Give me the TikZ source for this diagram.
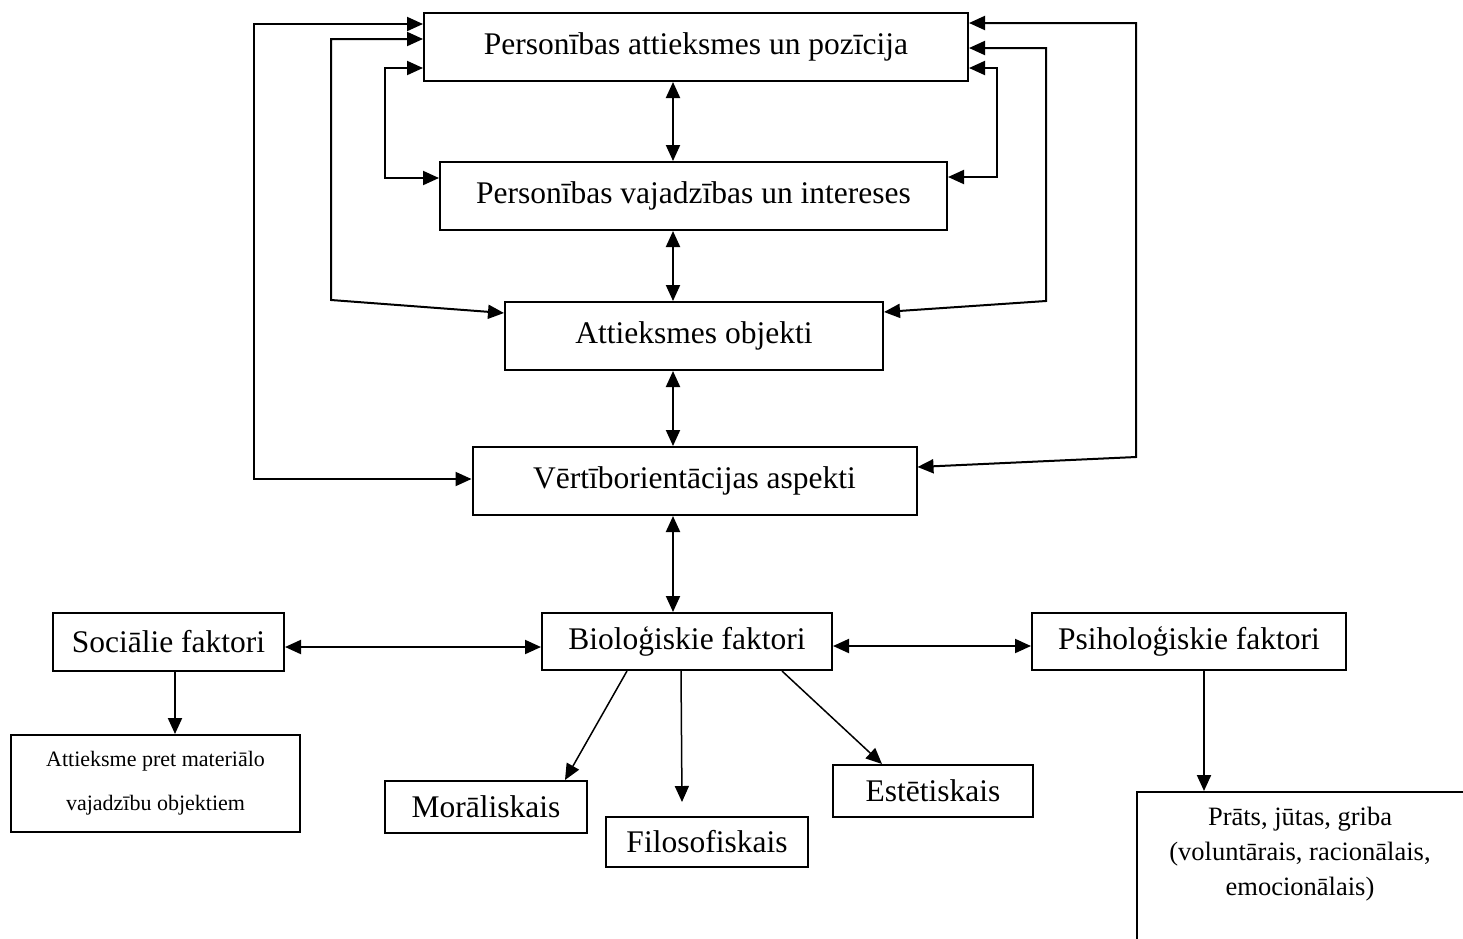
\documentclass[tikz,border=0pt]{standalone}
\usepackage{fontspec}
\setmainfont{Liberation Serif}
\usetikzlibrary{arrows.meta,calc}
\begin{document}
\begin{tikzpicture}[x=1pt,y=-1pt,
  box/.style={draw, line width=2pt, inner sep=0pt, align=center, font=\fontsize{31.5}{37}\selectfont},
  tip/.tip={Triangle[length=16pt,width=14pt]},
  con/.style={line width=2pt, -tip},
  dcon/.style={line width=2pt, tip-tip},
  diag/.style={line width=1.5pt}]
\useasboundingbox (0,0) rectangle (1463,938);
\begin{scope}
\clip (0,0) rectangle (1463,938);
\node[draw, line width=2pt, minimum width=340pt, minimum height=190pt, anchor=north west] (b12) at (1136,791) {};
\end{scope}
\node[font=\fontsize{26.5}{35}\selectfont, align=center] (b12t) at (1300,854) {Prāts, jūtas, griba\\(voluntārais, racionālais,\\emocionālais)};

\node[box, minimum width=544pt, minimum height=68pt] (b1) at (696,47) {Personības attieksmes un pozīcija};
\node[box, minimum width=507pt, minimum height=68pt] (b2) at (693.5,196) {Personības vajadzības un intereses};
\node[box, minimum width=378pt, minimum height=68pt] (b3) at (694,336) {Attieksmes objekti};
\node[box, minimum width=444pt, minimum height=68pt] (b4) at (694.5,481) {Vērtīborientācijas aspekti};
\node[box, minimum width=231pt, minimum height=58pt] (b5) at (168.5,642) {Sociālie faktori};
\node[box, minimum width=290pt, minimum height=57pt] (b6) at (687,641.5) {Bioloģiskie faktori};
\node[box, minimum width=314pt, minimum height=57pt] (b7) at (1189,641.5) {Psiholoģiskie faktori};
\node[box, minimum width=289pt, minimum height=97pt, font=\fontsize{22}{44}\selectfont] (b8) at (155.5,783.5) {Attieksme pret materiālo\\vajadzību objektiem};
\node[box, minimum width=202pt, minimum height=52pt] (b9) at (486,807) {Morāliskais};
\node[box, minimum width=202pt, minimum height=50pt] (b10) at (707,842) {Filosofiskais};
\node[box, minimum width=200pt, minimum height=52pt] (b11) at (933,791) {Estētiskais};

% left side loops
\coordinate (L1) at (254,24); \coordinate (L1b) at (254,479);
\draw[dcon] (b1.west |- L1) -- (L1) -- (L1b) -- (b4.west |- L1b);
\coordinate (L2) at (331,39); \coordinate (L2b) at (331,300); \coordinate (L2c) at (0,313);
\draw[dcon] (b1.west |- L2) -- (L2) -- (L2b) -- (b3.west |- L2c);
\coordinate (L3) at (385,68); \coordinate (L3b) at (385,178);
\draw[dcon] (b1.west |- L3) -- (L3) -- (L3b) -- (b2.west |- L3b);
% right side loops
\coordinate (R1) at (1136,23); \coordinate (R1b) at (1136,457); \coordinate (R1c) at (0,467);
\draw[dcon] (b1.east |- R1) -- (R1) -- (R1b) -- (b4.east |- R1c);
\coordinate (R2) at (1046,48); \coordinate (R2b) at (1046,301); \coordinate (R2c) at (0,312);
\draw[dcon] (b1.east |- R2) -- (R2) -- (R2b) -- (b3.east |- R2c);
\coordinate (R3) at (997,68); \coordinate (R3b) at (997,177);
\draw[dcon] (b1.east |- R3) -- (R3) -- (R3b) -- (b2.east |- R3b);
% central column
\coordinate (X) at (673,0);
\draw[dcon] (b1.south -| X) -- (b2.north -| X);
\draw[dcon] (b2.south -| X) -- (b3.north -| X);
\draw[dcon] (b3.south -| X) -- (b4.north -| X);
\draw[dcon] (b4.south -| X) -- (b6.north -| X);
% factors row
\coordinate (H1) at (0,647); \coordinate (H2) at (0,646);
\draw[dcon] (b5.east |- H1) -- (b6.west |- H1);
\draw[dcon] (b6.east |- H2) -- (b7.west |- H2);
\coordinate (S) at (175,0);
\draw[con] (b5.south -| S) -- (b8.north -| S);
\coordinate (M1) at (627,0); \coordinate (M2) at (565,0);
\draw[con, diag] (b6.south -| M1) -- (b9.north -| M2);
\coordinate (F1) at (681,0); \coordinate (Fend) at (682,802);
\draw[con, diag] (b6.south -| F1) -- (Fend);
\coordinate (E1) at (782,0); \coordinate (E2) at (882,0);
\draw[con, diag] (b6.south -| E1) -- (b11.north -| E2);
\coordinate (P) at (1204,0);
\draw[con] (b7.south -| P) -- (b12.north -| P);
\end{tikzpicture}
\end{document}
